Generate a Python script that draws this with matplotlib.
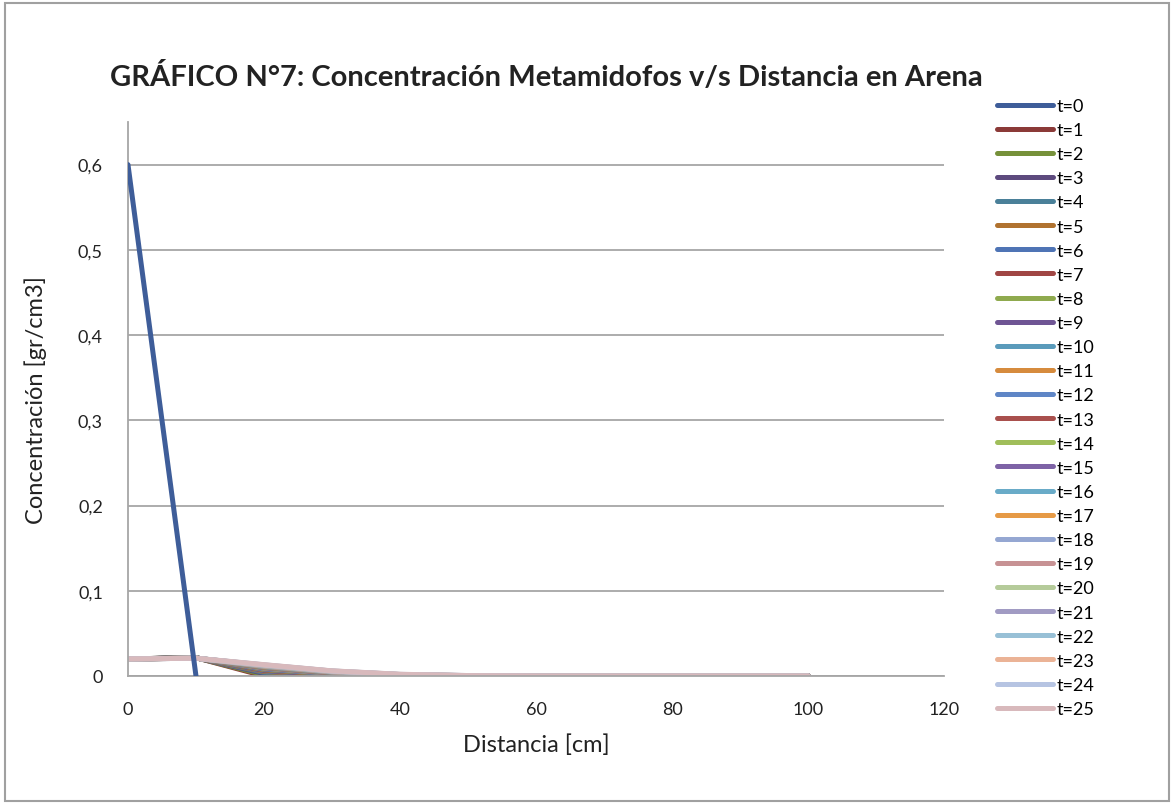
import matplotlib
matplotlib.use("Agg")
import matplotlib.pyplot as plt
from matplotlib.patches import Rectangle
from matplotlib.ticker import FuncFormatter

# distancia [cm]
distancia = [0, 10, 20, 30, 40, 50, 60, 70, 80, 90, 100]

# t=0 profile (only the first two points are given)
dist_t0 = [0, 10]
c_t0 = [0.6, 0]

# t=1..25 : concentration at x=0, 10, 20, 30, 40, 50 (rest is 0)
c_x0 = [0.02] * 25
c_x10 = [0.0215, 0.0215, 0.0214, 0.0214, 0.0213, 0.0213, 0.0212, 0.0212, 0.0212,
         0.0211, 0.0211, 0.0211, 0.0210, 0.0210, 0.0210, 0.0210, 0.0209, 0.0209,
         0.0209, 0.0209, 0.0208, 0.0208, 0.0208, 0.0208, 0.0208]
c_x20 = [0.0, 0.0015, 0.003, 0.0042, 0.0052, 0.006, 0.0068, 0.0075, 0.0081,
         0.0087, 0.0092, 0.0097, 0.0101, 0.0105, 0.0109, 0.0112, 0.0115, 0.0118,
         0.0121, 0.0123, 0.0125, 0.0127, 0.0129, 0.0131, 0.0133]
c_x30 = [0.0, 0.0, 0.0003, 0.0006, 0.001, 0.0014, 0.0018, 0.0022, 0.0026,
         0.003, 0.0033, 0.0036, 0.0039, 0.0042, 0.0044, 0.0046, 0.0048, 0.005,
         0.0052, 0.0054, 0.0055, 0.0057, 0.0058, 0.0059, 0.006]
c_x40 = [0.0, 0.0, 0.0, 0.0, 0.0001, 0.0002, 0.0003, 0.0004, 0.0005,
         0.0006, 0.0007, 0.0008, 0.0009, 0.001, 0.0011, 0.0012, 0.0013, 0.0014,
         0.0015, 0.0016, 0.0016, 0.0017, 0.0018, 0.0019, 0.002]
c_x50 = [0.0, 0.0, 0.0, 0.0, 0.0, 0.0, 0.0, 0.0, 0.0001,
         0.0001, 0.0001, 0.0001, 0.0002, 0.0002, 0.0002, 0.0002, 0.0003, 0.0003,
         0.0003, 0.0003, 0.0004, 0.0004, 0.0004, 0.0005, 0.0005]

labels = ["t=%d" % i for i in range(26)]

colores = ["#3E5D99", "#8B3A38", "#76913A", "#5D4A7E", "#4A8099", "#B0722F",
           "#4F74B5", "#A04644", "#8FAA4E", "#6F5594", "#5A9BBB", "#D68B3D",
           "#5F86C6", "#A9504D", "#A0BE5A", "#7E63A6", "#69ABC8", "#E69A46",
           "#95A7D2", "#C79294", "#B5CB9A", "#A19BC3", "#98C0D6", "#EBB396",
           "#B6C4E2", "#D8B9BC"]

plt.rcParams['font.family'] = ['Lato', 'DejaVu Sans']

fig = plt.figure(figsize=(11.73, 8.04), dpi=100)
ax = fig.add_axes([0.1091, 0.158, 0.6957, 0.689])

lines = []
l0, = ax.plot(dist_t0, c_t0, color=colores[0], lw=3.6, zorder=5, solid_capstyle='round')
lines.append(l0)
for i in range(25):
    ys = [c_x0[i], c_x10[i], c_x20[i], c_x30[i], c_x40[i], c_x50[i]] + [0] * 5
    l, = ax.plot(distancia, ys, color=colores[i + 1], lw=3.6, solid_capstyle='round')
    lines.append(l)

ax.set_xlim(0, 120)
ax.set_ylim(0, 0.65)
ax.set_xticks(range(0, 121, 20))
ax.set_yticks([0, 0.1, 0.2, 0.3, 0.4, 0.5, 0.6])
ax.yaxis.set_major_formatter(FuncFormatter(lambda v, p: "0" if v == 0 else ("%.1f" % v).replace(".", ",")))
ax.tick_params(length=0, labelsize=13, colors="#222222")
ax.tick_params(axis='y', pad=18)
ax.tick_params(axis='x', pad=18)
ax.grid(axis='y', color="#A6A6A6", lw=1.3)
ax.set_axisbelow(True)
for s in ['top', 'right']:
    ax.spines[s].set_visible(False)
for s in ['left', 'bottom']:
    ax.spines[s].set_color("#A6A6A6")
    ax.spines[s].set_linewidth(1.3)

ax.set_xlabel("Distancia [cm]", fontsize=17, color="#222222", labelpad=12)
ax.set_ylabel("Concentración [gr/cm3]", fontsize=17, color="#222222", labelpad=22)

fig.text(0.466, 0.905, "GRÁFICO N°7: Concentración Metamidofos v/s Distancia en Arena",
         ha='center', va='center', fontsize=21, fontweight='bold', color="#222222")

fig.legend(lines, labels, loc='upper left', bbox_to_anchor=(0.85, 0.877),
           frameon=False, fontsize=13, handlelength=3.1, handletextpad=0.17,
           labelspacing=0.45, borderaxespad=0, borderpad=0)

fig.patches.append(Rectangle((0.004, 0.003), 0.993, 0.992, transform=fig.transFigure,
                             fill=False, edgecolor="#A0A0A0", lw=1.5))

fig.savefig("out.png", dpi=100)
